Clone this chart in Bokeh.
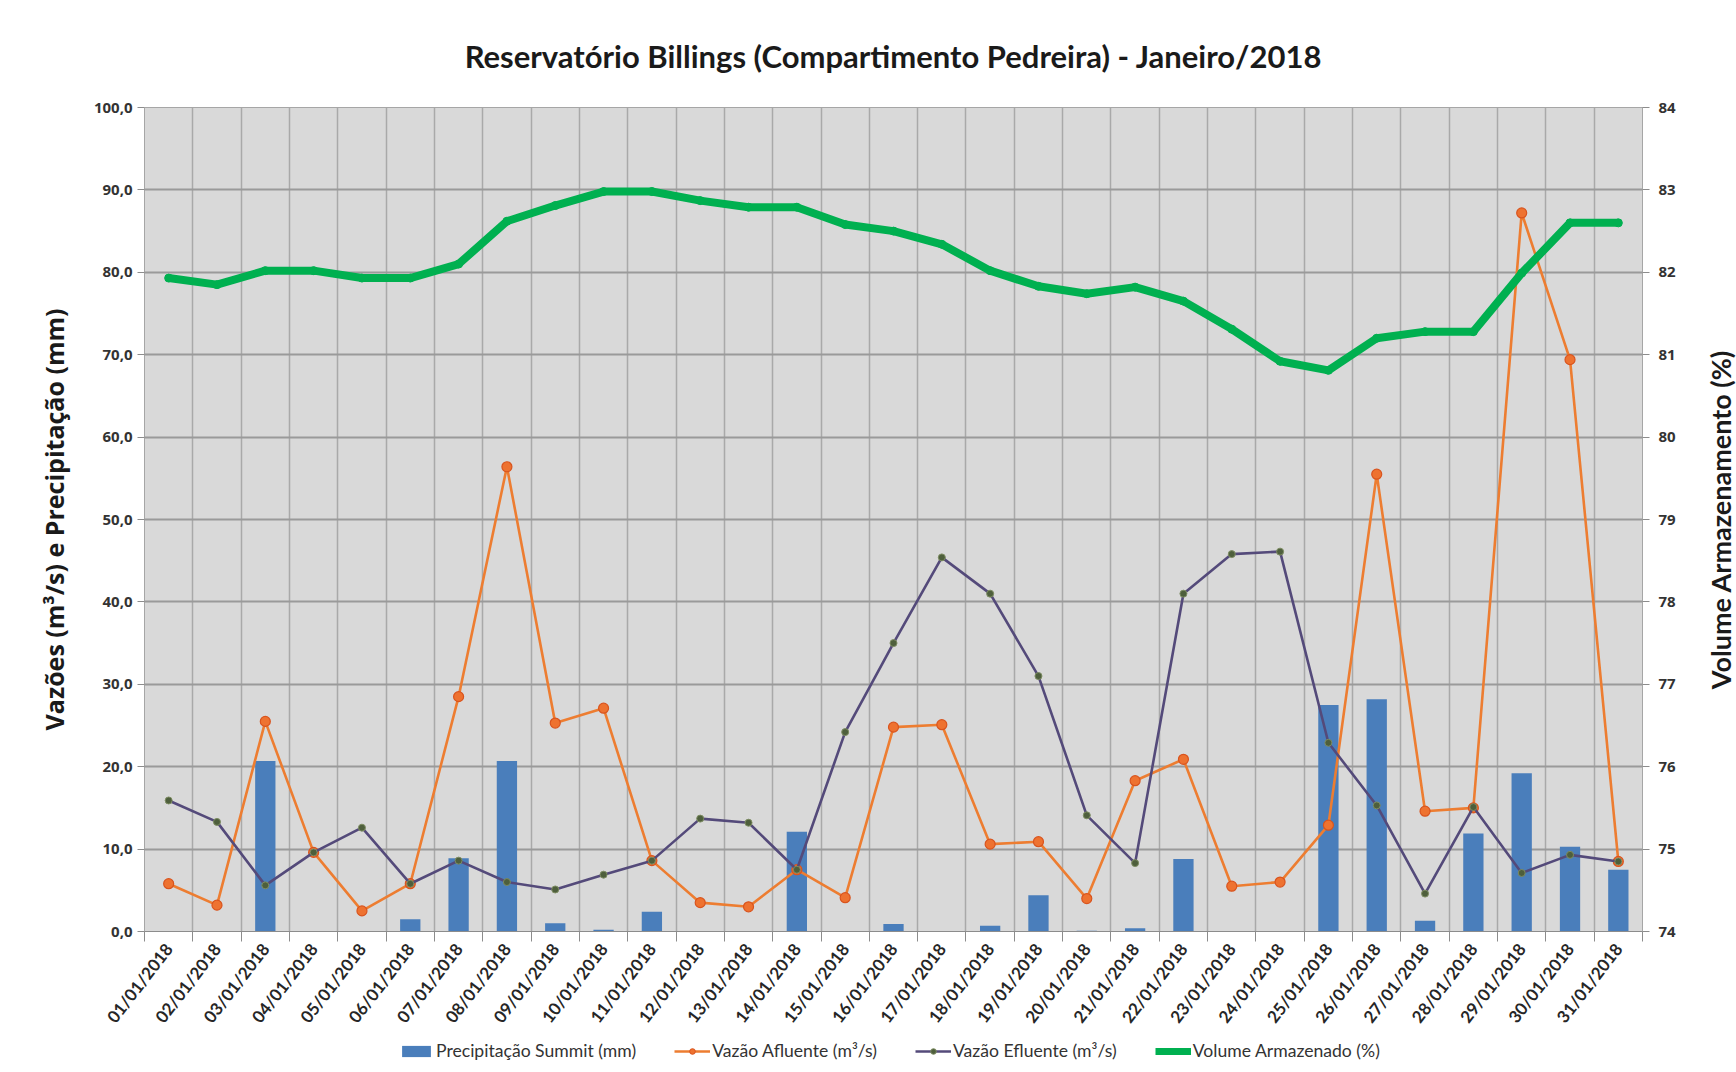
from bokeh.plotting import figure
from bokeh.layouts import column, row
from bokeh.models import (Range1d, LinearAxis, FixedTicker, Legend, LegendItem,
                          CustomJSTickFormatter, Title)
from bokeh.embed import file_html
from bokeh.resources import INLINE

days = ["01/01/2018", "02/01/2018", "03/01/2018", "04/01/2018", "05/01/2018", "06/01/2018",
        "07/01/2018", "08/01/2018", "09/01/2018", "10/01/2018", "11/01/2018", "12/01/2018",
        "13/01/2018", "14/01/2018", "15/01/2018", "16/01/2018", "17/01/2018", "18/01/2018",
        "19/01/2018", "20/01/2018", "21/01/2018", "22/01/2018", "23/01/2018", "24/01/2018",
        "25/01/2018", "26/01/2018", "27/01/2018", "28/01/2018", "29/01/2018", "30/01/2018",
        "31/01/2018"]
precip = [0.0, 0.0, 20.7, 0.0, 0.0, 1.5, 8.9, 20.7, 1.0, 0.2, 2.4, 0.0, 0.0, 12.1, 0.0, 0.9,
          0.0, 0.7, 4.4, 0.1, 0.4, 8.8, 0.0, 0.0, 27.5, 28.2, 1.3, 11.9, 19.2, 10.3, 7.5]
afluente = [5.8, 3.2, 25.5, 9.6, 2.5, 5.8, 28.5, 56.4, 25.3, 27.1, 8.6, 3.5, 3.0, 7.5, 4.1,
            24.8, 25.1, 10.6, 10.9, 4.0, 18.3, 20.9, 5.5, 6.0, 12.9, 55.5, 14.6, 15.0, 87.2,
            69.4, 8.5]
efluente = [15.9, 13.3, 5.6, 9.6, 12.6, 5.8, 8.6, 6.0, 5.1, 6.9, 8.6, 13.7, 13.2, 7.5, 24.2,
            35.0, 45.4, 41.0, 31.0, 14.1, 8.3, 41.0, 45.8, 46.1, 22.9, 15.3, 4.6, 15.1, 7.1,
            9.3, 8.5]
volume = [81.93, 81.85, 82.02, 82.02, 81.93, 81.93, 82.1, 82.62, 82.81, 82.98, 82.98, 82.87,
          82.79, 82.79, 82.58, 82.5, 82.34, 82.02, 81.83, 81.74, 81.82, 81.65, 81.31, 80.92,
          80.81, 81.2, 81.28, 81.28, 81.99, 82.6, 82.6]
left_ticks = [0, 10, 20, 30, 40, 50, 60, 70, 80, 90, 100]
right_ticks = [74, 75, 76, 77, 78, 79, 80, 81, 82, 83, 84]
series_names = ["Precipitação Summit (mm)", "Vazão Afluente (m³/s)",
                "Vazão Efluente (m³/s)", "Volume Armazenado (%)"]
right_label = "Volume Armazenamento (%)"

x = list(range(1, len(days) + 1))
bounds = [i + 0.5 for i in range(0, len(days) + 1)]

FONT = "Lato"
C_BAR = "#4a7ebb"
C_AF, C_AF_M, C_AF_E = "#ed7d31", "#ee7230", "#d9541e"
C_EF, C_EF_M, C_EF_E = "#544a7a", "#4e5f3c", "#7d8c62"
C_VOL = "#00b050"

MAIN_W = 1704
SIDE_W = 32

p = figure(width=MAIN_W, height=1038, output_backend="svg", toolbar_location=None,
           x_range=Range1d(0.5, len(days) + 0.5), y_range=Range1d(0, 100),
           min_border_left=144, min_border_right=62, min_border_top=107, min_border_bottom=107,
           background_fill_color="#d9d9d9", border_fill_color="white",
           outline_line_color="#a6a6a6", outline_line_width=1)
p.extra_y_ranges = {"vol": Range1d(74, 84)}

p.title.text = "Reservatório Billings (Compartimento Pedreira) - Janeiro/2018"
p.title.text_font = FONT
p.title.text_font_size = "31px"
p.title.text_font_style = "bold"
p.title.text_color = "#1a1a1a"
p.title.align = "center"
p.title.standoff = 65
p.title.offset = -8

# x axis
p.xaxis.ticker = FixedTicker(ticks=x, minor_ticks=bounds)
p.xaxis.major_label_overrides = {i: d for i, d in zip(x, days)}
p.xaxis.major_label_orientation = 0.91
p.xaxis.major_label_text_font = FONT
p.xaxis.major_label_text_font_size = "17px"
p.xaxis.major_label_text_font_style = "bold"
p.xaxis.major_label_text_color = "#262626"
p.xaxis.major_tick_line_color = None
p.xaxis.minor_tick_line_color = "#8c8c8c"
p.xaxis.minor_tick_out = 10
p.xaxis.minor_tick_in = 0
p.xaxis.axis_line_color = "#8c8c8c"
p.xaxis.major_label_standoff = 4

# left axis
p.yaxis.ticker = FixedTicker(ticks=left_ticks)
p.yaxis.formatter = CustomJSTickFormatter(code="return tick.toFixed(1).replace('.', ',');")
p.yaxis.axis_label = "Vazões (m³/s) e Precipitação (mm)"
p.yaxis.axis_label_text_font = "Open Sans"
p.yaxis.axis_label_text_font_style = "bold"
p.yaxis.axis_label_text_font_size = "25px"
p.yaxis.axis_label_text_color = "#1a1a1a"
p.yaxis.axis_label_standoff = 20
p.yaxis.major_label_text_font = "Open Sans"
p.yaxis.major_label_text_font_style = "bold"
p.yaxis.major_label_text_font_size = "15px"
p.yaxis.major_label_text_color = "#333333"
p.yaxis.axis_line_color = None
p.yaxis.major_tick_line_color = "#8c8c8c"
p.yaxis.major_tick_out = 7
p.yaxis.major_tick_in = 0
p.yaxis.minor_tick_line_color = None

# right axis (its title is drawn in the narrow strip to the right)
ax2 = LinearAxis(y_range_name="vol", ticker=FixedTicker(ticks=right_ticks))
ax2.major_label_text_font = "Open Sans"
ax2.major_label_text_font_style = "bold"
ax2.major_label_text_font_size = "15px"
ax2.major_label_text_color = "#333333"
ax2.axis_line_color = "#a6a6a6"
ax2.major_tick_line_color = "#8c8c8c"
ax2.major_tick_out = 7
ax2.major_tick_in = 0
ax2.minor_tick_line_color = None
ax2.major_label_standoff = 9
p.add_layout(ax2, "right")

# grids
p.xgrid.ticker = FixedTicker(ticks=bounds)
p.xgrid.grid_line_color = "#a9a9a9"
p.xgrid.grid_line_width = 1.5
p.ygrid.ticker = FixedTicker(ticks=left_ticks)
p.ygrid.grid_line_color = "#9a9a9a"
p.ygrid.grid_line_width = 2

# data
p.vbar(x=x, top=precip, width=0.42, fill_color=C_BAR, line_color=None)
p.line(x, afluente, line_color=C_AF, line_width=2.6)
p.scatter(x, afluente, size=10, fill_color=C_AF_M, line_color=C_AF_E, line_width=1.2)
p.line(x, efluente, line_color=C_EF, line_width=2.6)
p.scatter(x, efluente, size=7, fill_color=C_EF_M, line_color=C_EF_E, line_width=1)
p.line(x, volume, y_range_name="vol", line_color=C_VOL, line_width=8)
p.scatter(x, volume, y_range_name="vol", size=8, fill_color=C_VOL, line_color=C_VOL)

# legend strip: a thin figure whose view range shows none of the series,
# so only the legend swatches and labels are visible
lg = figure(width=MAIN_W, height=34, output_backend="svg", toolbar_location=None,
            x_axis_type=None, y_axis_type=None, outline_line_color=None,
            min_border=0, border_fill_color="white", background_fill_color="white",
            x_range=Range1d(500, 501), y_range=Range1d(500, 501))
lg.xgrid.visible = False
lg.ygrid.visible = False
r_bar = lg.vbar(x=x, top=precip, width=0.4, fill_color=C_BAR, line_color=None)
r_afl = lg.line(x, afluente, line_color=C_AF, line_width=2.6)
r_afs = lg.scatter(x, afluente, size=9, fill_color=C_AF_M, line_color=C_AF_E)
r_efl = lg.line(x, efluente, line_color=C_EF, line_width=2.6)
r_efs = lg.scatter(x, efluente, size=7, fill_color=C_EF_M, line_color=C_EF_E)
r_vol = lg.line(x, volume, line_color=C_VOL, line_width=7)
legend = Legend(items=[
    LegendItem(label=series_names[0], renderers=[r_bar]),
    LegendItem(label=series_names[1], renderers=[r_afl, r_afs]),
    LegendItem(label=series_names[2], renderers=[r_efl, r_efs]),
    LegendItem(label=series_names[3], renderers=[r_vol]),
], orientation="horizontal", location=(254, 11))
legend.label_text_font = FONT
legend.label_text_font_size = "17.6px"
legend.label_text_color = "#333333"
legend.background_fill_alpha = 0
legend.border_line_color = None
legend.glyph_width = 36
legend.glyph_height = 14
legend.spacing = 38
legend.padding = 0
legend.margin = 0
legend.label_standoff = 2
lg.add_layout(legend, "center")

# narrow strip carrying the right-hand axis title (reads bottom to top)
side = figure(width=SIDE_W, height=1038, output_backend="svg", toolbar_location=None,
              x_axis_type=None, y_axis_type=None, outline_line_color=None,
              min_border_left=0, min_border_right=0, min_border_top=107, min_border_bottom=107,
              border_fill_color="white", background_fill_color="white",
              x_range=Range1d(0, 1), y_range=Range1d(0, 1))
side.xgrid.visible = False
side.ygrid.visible = False
side_title = Title(text=right_label, align="center", text_font=FONT, text_font_size="27px",
                   text_font_style="bold", text_color="#1a1a1a", standoff=0)
side.add_layout(side_title, "left")

layout = row(column(p, lg, spacing=0), side, spacing=0)
open("out.html", "w").write(file_html(layout, INLINE))
